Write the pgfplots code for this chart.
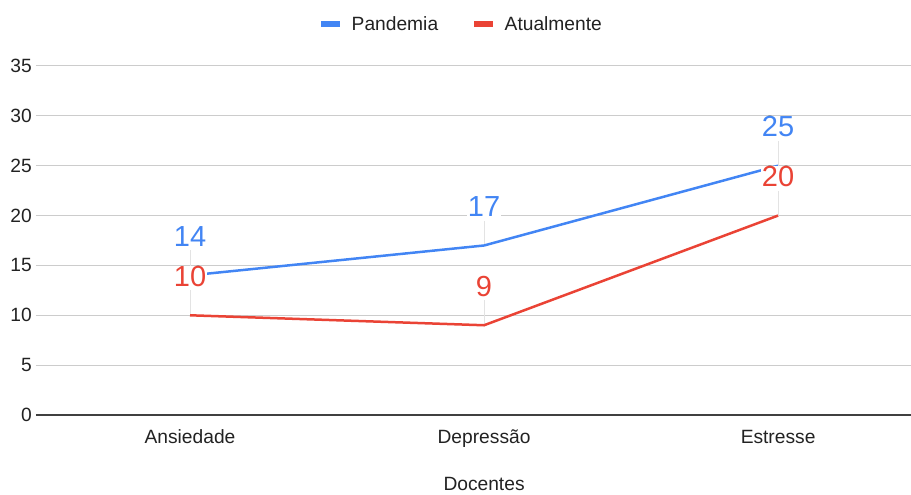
\documentclass[border=0pt]{standalone}
\usepackage{fontspec}
\setmainfont{Liberation Sans}
\usepackage{pgfplots}
\pgfplotsset{compat=1.18}

\definecolor{pandemia}{HTML}{4285F4}
\definecolor{atual}{HTML}{EA4335}
\definecolor{grade}{HTML}{CCCCCC}
\definecolor{texto}{HTML}{222222}
\definecolor{guia}{HTML}{E3E3E3}

\begin{document}
\begin{tikzpicture}
\path[use as bounding box] (-36pt,-80pt) rectangle (875pt,415pt);
\begin{axis}[
    at={(0pt,0pt)}, anchor=south west,
    scale only axis, width=875pt, height=349pt,
    xmin=-0.5238, xmax=2.452,
    ymin=0, ymax=35,
    xtick={0,1,2},
    xticklabels={Ansiedade,Depressão,Estresse},
    ytick={0,5,...,35},
    major tick length=0pt,
    ymajorgrids, grid style={grade, line width=1pt},
    axis x line*=bottom, axis y line*=left,
    x axis line style={-, draw=black!75, line width=1.3pt},
    y axis line style={draw=none},
    /pgf/number format/assume math mode=true,
    tick label style={font=\fontsize{19.2}{21}\selectfont, text=texto},
    yticklabel style={inner sep=0pt, anchor=east, xshift=-4pt},
    xticklabel style={inner sep=0pt, anchor=north, text height=13.5pt, text depth=4pt, yshift=-15pt},
    xlabel={Docentes},
    xlabel style={at={(axis cs:1,0)}, anchor=base, yshift=-76pt,
        font=\fontsize{19.2}{21}\selectfont, text=texto},
    legend columns=2,
    legend style={at={(axis description cs:0.4846,1)}, anchor=center, yshift=42pt,
        draw=none, fill=none, inner sep=0pt,
        font=\fontsize{19.2}{21}\selectfont, text=texto,
        nodes={inner sep=0pt},
        /tikz/every odd column/.append style={column sep=8pt},
        /tikz/every even column/.append style={column sep=33pt}},
    legend image code/.code={\draw[line width=6.5pt] (0pt,0pt) -- (19pt,0pt);},
    nodes near coords,
    every node near coord/.append style={anchor=center, yshift=39pt,
        font=\fontsize{29}{30}\selectfont, fill=white, inner sep=0.5pt},
]

% linhas guia dos rótulos
\addplot[only marks, mark=none, forget plot,
    error bars/.cd, y dir=plus, y explicit, error mark=none,
    error bar style={guia, line width=1pt}]
    coordinates {
    (0,14) +- (0,2.5)
    (1,17) +- (0,2.5)
    (2,25) +- (0,2.5)
    (0,10) +- (0,2.5)
    (1,9)  +- (0,2.5)
    (2,20) +- (0,2.5)
};

\addplot[pandemia, line width=2.5pt, mark=none,
    every node near coord/.append style={text=pandemia}]
    coordinates {(0,14) (1,17) (2,25)};
\addlegendentry{Pandemia}

\addplot[atual, line width=2.5pt, mark=none,
    every node near coord/.append style={text=atual}]
    coordinates {(0,10) (1,9) (2,20)};
\addlegendentry{Atualmente}

\end{axis}
\end{tikzpicture}
\end{document}
